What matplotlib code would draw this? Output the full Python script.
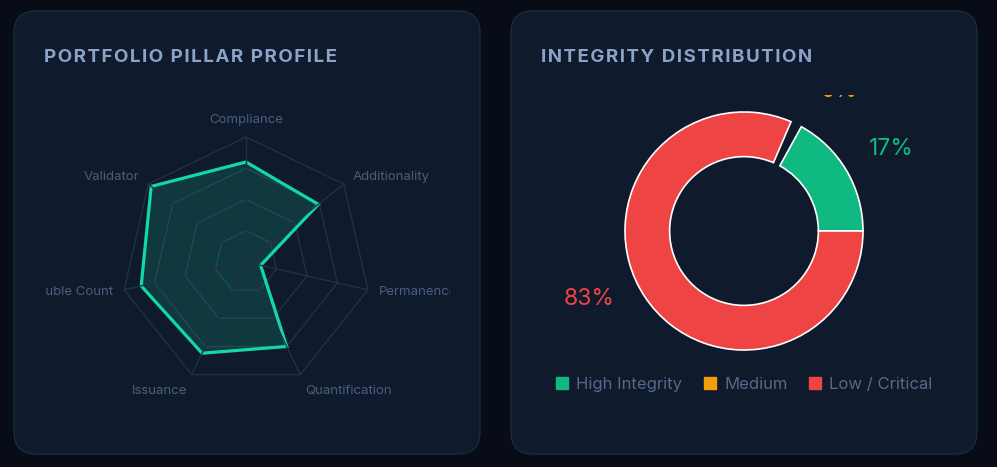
import numpy as np
import matplotlib
matplotlib.use("Agg")
import matplotlib.pyplot as plt
from matplotlib.patches import FancyBboxPatch, Polygon
from matplotlib.lines import Line2D

# ======================
# data
# ======================
pillars = ["Compliance", "Additionality", "Permanence", "Quantification",
           "Issuance", "Double Count", "Validator"]
pillar_scores = [80, 74, 12, 75, 81, 86, 97]
grid_levels = [25, 50, 75, 100]

integrity_labels = ["High Integrity", "Medium", "Low / Critical"]
integrity_share = [17, 0, 83]

# ======================
# style
# ======================
W, H = 997, 467
BG = "#070c17"
CARD = "#0f1a2c"
CARD_EDGE = "#182c3c"
TITLE_C = "#8aa3c7"
LABEL_C = "#4b5e7e"
GRID_C = "#233043"
TEAL = "#12d8a8"
slice_colors = ["#10b981", "#f59e0b", "#ef4444"]
label_nudge = [-1.6, -5.4, -7.0]  # degrees, pct label placement tweak

plt.rcParams["font.family"] = ["Inter", "DejaVu Sans"]

fig = plt.figure(figsize=(W / 100, H / 100), dpi=100, facecolor=BG)


def px_axes(x0, y0, x1, y1):
    # axes from pixel box (top-left origin)
    a = fig.add_axes([x0 / W, 1 - y1 / H, (x1 - x0) / W, (y1 - y0) / H])
    a.set_zorder(2)
    return a


def spaced(s):
    # poor man's letter-spacing
    return "\u200a".join(s)


# cards
for x0, x1 in [(14, 480), (511, 977)]:
    card = FancyBboxPatch((x0 / W, 1 - 454 / H), (x1 - x0) / W, (454 - 11) / H,
                          boxstyle="round,pad=0,rounding_size=0.022",
                          transform=fig.transFigure, facecolor=CARD,
                          edgecolor=CARD_EDGE, linewidth=1.0, mutation_aspect=W / H,
                          zorder=-10)
    fig.patches.append(card)

fig.text(44 / W, 1 - 58 / H, spaced("PORTFOLIO PILLAR PROFILE"),
         color=TITLE_C, fontsize=13.5, fontweight="bold", va="center", ha="left")
fig.text(541 / W, 1 - 58 / H, spaced("INTEGRITY DISTRIBUTION"),
         color=TITLE_C, fontsize=13.5, fontweight="bold", va="center", ha="left")

# ======================
# radar
# ======================
CX, CY, R = 246, 262, 125.0  # centre (px) and pixels per full scale
ax = px_axes(45, 102, 450, 422)
ax.set_xlim(-(CX - 45) / R, (450 - CX) / R)
ax.set_ylim(-(422 - CY) / R, (CY - 102) / R)
ax.axis("off")

n = len(pillars)
ang = np.deg2rad(90 - np.arange(n) * 360 / n)

for lv in grid_levels:
    r = lv / 100
    ax.add_patch(Polygon(np.column_stack([r * np.cos(ang), r * np.sin(ang)]),
                         closed=True, fill=False, edgecolor=GRID_C, linewidth=1))
for a in ang:
    ax.plot([0, np.cos(a)], [0, np.sin(a)], color=GRID_C, linewidth=1)

vals = np.array(pillar_scores) / 100
pts = np.column_stack([vals * np.cos(ang), vals * np.sin(ang)])
ax.add_patch(Polygon(pts, closed=True, facecolor=TEAL, alpha=0.16, edgecolor="none"))
ax.add_patch(Polygon(pts, closed=True, fill=False, edgecolor=TEAL, linewidth=2.3,
                     joinstyle="miter"))

for name, a in zip(pillars, ang):
    c, s = np.cos(a), np.sin(a)
    ha = "left" if c > 0.1 else ("right" if c < -0.1 else "center")
    va = "bottom" if s > 0.9 else ("top" if s < -0.5 else "center")
    t = ax.text(1.09 * c, 1.09 * s, name, color=LABEL_C, fontsize=9.5,
                ha=ha, va=va)
    t.set_clip_on(True)

# ======================
# donut
# ======================
ax2 = px_axes(541, 95, 947, 367)
wedges, _ = ax2.pie(integrity_share, colors=slice_colors, startangle=0,
                    counterclock=True, radius=1,
                    wedgeprops=dict(width=0.375, edgecolor="white", linewidth=1.2))
ax2.set_aspect("auto")
ax2.set_xlim(-203 / 119, 203 / 119)
ax2.set_ylim(-136 / 119, 136 / 119)

for w, v, col, nd in zip(wedges, integrity_share, slice_colors, label_nudge):
    mid = np.deg2rad((w.theta1 + w.theta2) / 2 + nd)
    t = ax2.text(1.42 * np.cos(mid), 1.42 * np.sin(mid), f"{v}%", color=col,
                 fontsize=16.5, ha="center", va="center")
    t.set_clip_on(True)
    if v == 0:
        w.set_visible(False)

# small gap after the (empty) medium slice
wedges[2].set_theta1(wedges[2].theta1 + 5.5)

handles = [Line2D([], [], marker="s", linestyle="none", markersize=8.6,
                  markerfacecolor=c, markeredgecolor=c) for c in slice_colors]
fig.legend(handles, integrity_labels, loc="center", bbox_to_anchor=(744 / W, 1 - 384.5 / H),
           ncol=3, frameon=False, fontsize=12, labelcolor="#56698a",
           handlelength=0.75, handletextpad=0.5, columnspacing=1.25)

fig.savefig("out.png", dpi=100, facecolor=BG)
